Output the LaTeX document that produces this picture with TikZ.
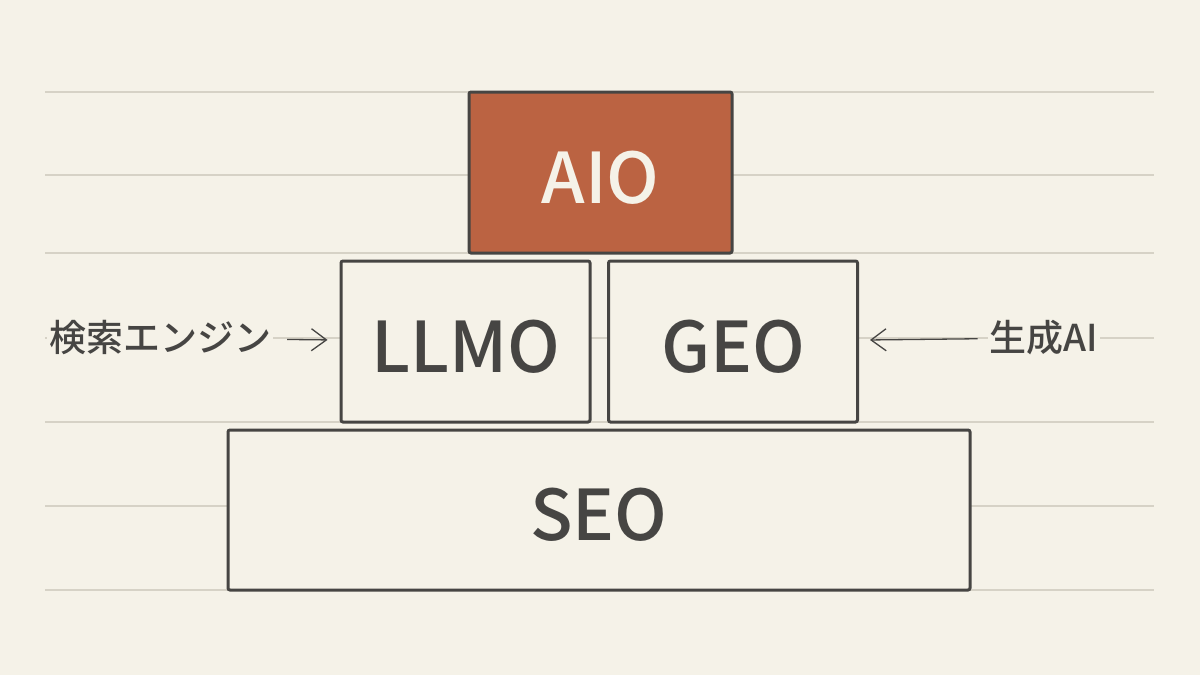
\documentclass[tikz,border=0pt]{standalone}
\usepackage{fontspec}
\setmainfont{Noto Sans CJK JP Medium}
\usetikzlibrary{arrows.meta}
\definecolor{paper}{HTML}{F5F2E8}
\definecolor{rule}{HTML}{D6D2C6}
\definecolor{ink}{HTML}{464543}
\definecolor{rust}{HTML}{BB6342}
\tikzset{
  layer/.style={draw=ink, line width=3pt, rounded corners=2pt, fill=paper,
    text=ink, inner sep=0pt, text height=61pt, text depth=0pt,
    font=\fontsize{70}{70}\selectfont},
  side/.style={fill=paper, text=ink, inner sep=2pt, font=\fontsize{37}{37}\selectfont},
  feed/.style={draw=ink, line width=1.3pt, -{Straight Barb[length=15pt,width=22pt,line width=1.3pt]}}
}
\begin{document}
\begin{tikzpicture}[x=1pt, y=-1pt]
  \useasboundingbox[fill=paper] (0,0) rectangle (1200,675);

  %ruled lines
  \foreach \ry in {92,175,253,338,422,506,590}{
    \draw[rule, line width=1.5pt] (45,\ry) -- (1154,\ry);
  }

  %pyramid
  \node[layer, fill=rust, text=paper, minimum width=263pt, minimum height=161pt] (aio) at (600.5,172.5) {AIO};
  \foreach \cx/\txt/\name in {465.5/LLMO/llmo, 733/GEO/geo}{
    \node[layer, minimum width=249pt, minimum height=161pt] (\name) at (\cx,341.5) {\txt};
  }
  \node[layer, minimum width=742pt, minimum height=160pt] (seo) at (599,510) {SEO};

  %inputs
  \node[side] (search) at (160,338) {検索エンジン};
  \node[side] (genai) at (1044,338) {生成AI};
  \draw[feed, shorten <=14pt, shorten >=12pt] (search) -- (llmo);
  \draw[feed, shorten <=10pt, shorten >=11pt] (genai) -- (geo);

\end{tikzpicture}
\end{document}
